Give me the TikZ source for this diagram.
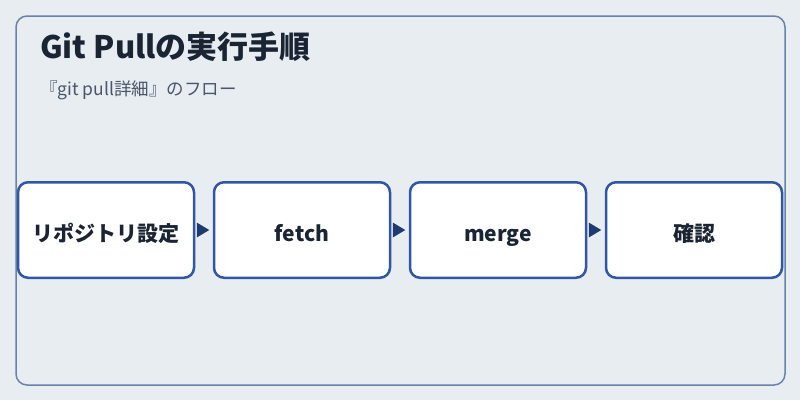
\documentclass[tikz,border=0pt]{standalone}
\usepackage{fontspec}
\setmainfont{Noto Sans CJK JP}
\usetikzlibrary{positioning}
\definecolor{pagebg}{HTML}{E8EDF2}
\definecolor{framecol}{HTML}{6A82AA}
\definecolor{boxcol}{HTML}{3057A3}
\definecolor{arrowcol}{HTML}{1F3A6E}
\definecolor{textcol}{HTML}{1A2433}
\definecolor{subcol}{HTML}{4A5568}

\begin{document}
\begin{tikzpicture}[x=1pt,y=-1pt,
                  stepbox/.style={draw=boxcol, line width=2.5pt, fill=white,
                              rounded corners=10pt, minimum width=176pt, minimum height=95.5pt,
                              inner sep=0pt, text=textcol, text height=22pt, text depth=0pt,
                              font=\fontsize{21pt}{24pt}\selectfont\bfseries}]
            \useasboundingbox (0,0) rectangle (800,400);
            \fill[pagebg] (0,0) rectangle (800,400);
            \draw[framecol, line width=1.5pt, rounded corners=11pt] (16,16) rectangle (785,385);
            % title and subtitle
            \node[anchor=base west, inner sep=0pt, text=textcol,
                  font=\fontsize{31pt}{34pt}\selectfont\bfseries] (title) at (40,58) {Git Pullの実行手順};
            \node[anchor=base west, inner sep=0pt, text=subcol,
                  font=\fontsize{17.5pt}{20pt}\selectfont] (subtitle) at (40,95) {『git pull詳細』のフロー};
            % the four steps
            \node[stepbox] (repo) at (106,230) {リポジトリ設定};
            \node[stepbox, right=17.5pt of repo] (fetch) {fetch};
            \node[stepbox, right=17.5pt of fetch] (merge) {merge};
            \node[stepbox, right=17.5pt of merge] (check) {確認};
            % small triangles between them
            \foreach \a/\b in {repo/fetch, fetch/merge, merge/check}
                  \fill[arrowcol] ([xshift=1.5pt]\a.east) ++(0,-7.5) -- ++(12.5,7.5) -- ++(-12.5,7.5) -- cycle;
      \end{tikzpicture}
\end{document}
